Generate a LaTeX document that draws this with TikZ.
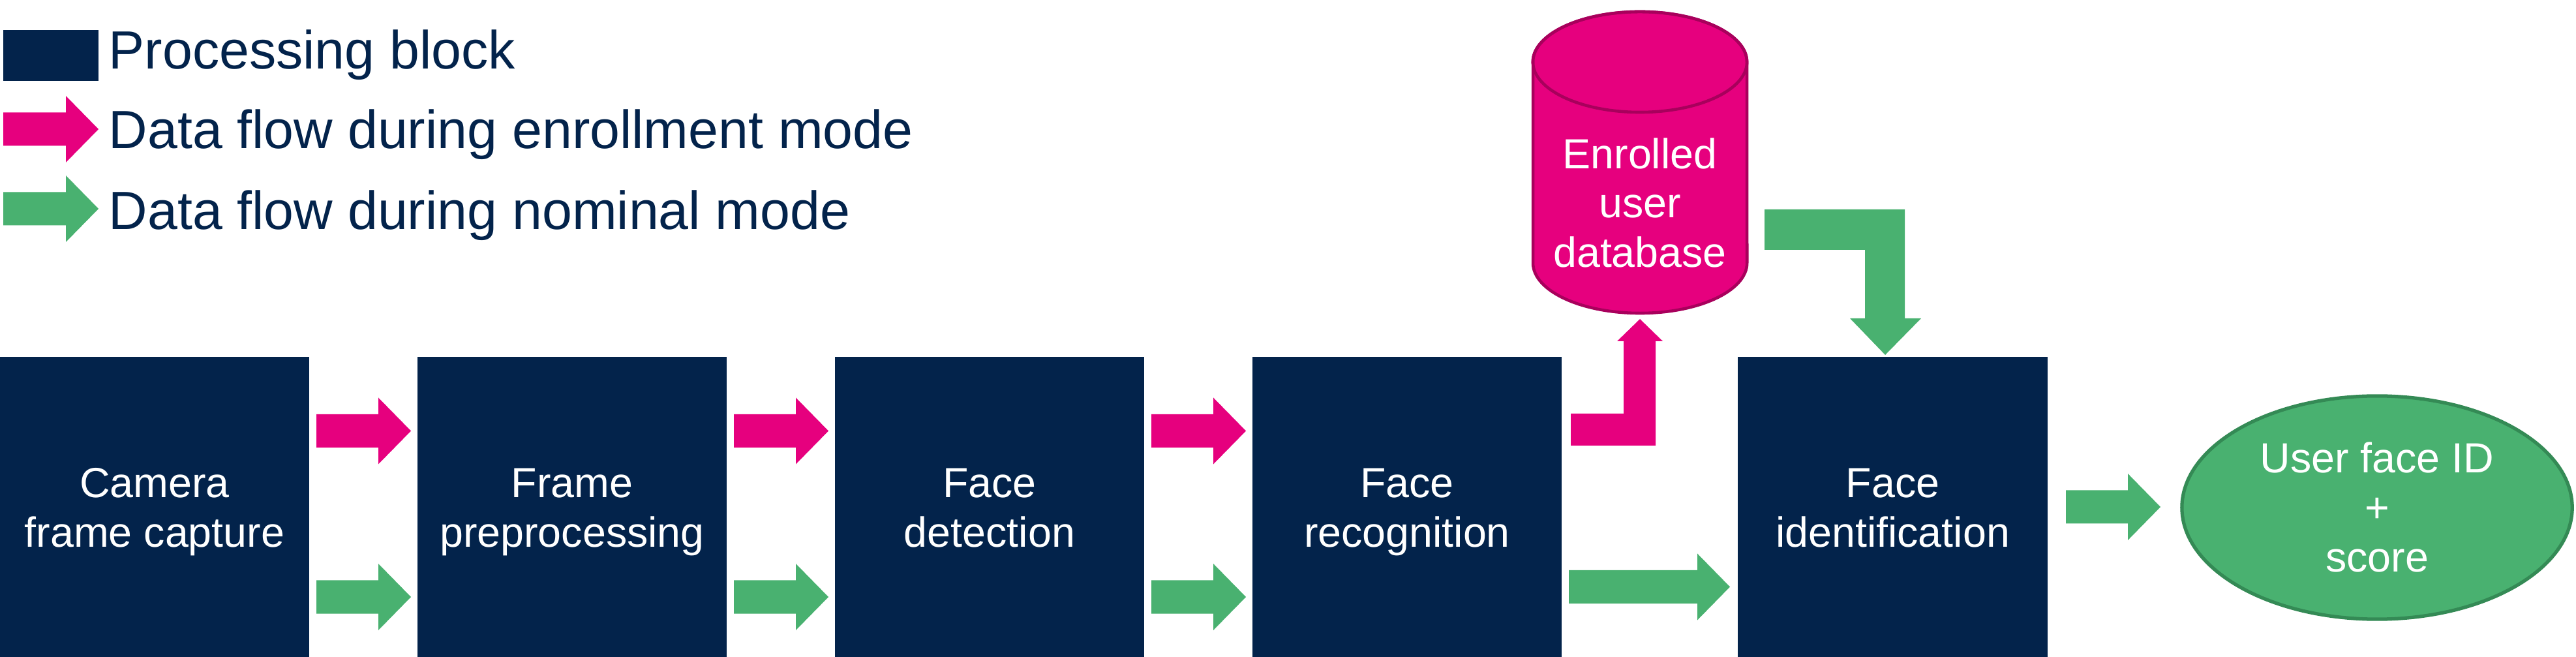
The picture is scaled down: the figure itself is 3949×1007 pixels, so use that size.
\documentclass[tikz,border=0pt]{standalone}
\usepackage{fontspec}
\setmainfont{Liberation Sans}
\usetikzlibrary{shapes.geometric}
\definecolor{navy}{HTML}{03234B}
\definecolor{enr}{HTML}{E6007E}
\definecolor{enrdark}{HTML}{A8005C}
\definecolor{nom}{HTML}{49B170}
\definecolor{nomdark}{HTML}{348A55}
\newcommand\blockfont{\fontsize{18.36pt}{21.6pt}\selectfont}
\newcommand\legendfont{\fontsize{23.45pt}{28pt}\selectfont}
\newcommand\blocktext[2]{\rule{0pt}{17.6pt}#1\\#2\rule[-4pt]{0pt}{4pt}}
\tikzset{
  block/.style={fill=navy, text=white, minimum width=4.74cm, minimum height=4.6cm,
    inner sep=0pt, outer sep=0pt, align=center, font=\blockfont},
  legtext/.style={anchor=base west, inner sep=0pt, text=navy, font=\legendfont},
  pics/rarrow/.style={code={
    \fill[pic actions] (0,-25.5) -- ({#1-50},-25.5) -- ({#1-50},-51) -- (#1,0)
      -- ({#1-50},51) -- ({#1-50},25.5) -- (0,25.5) -- cycle;}}
}
\begin{document}
\begin{tikzpicture}[x=0.01cm,y=-0.01cm]
\useasboundingbox (0,0) rectangle (3949,1007);

% legend
\node[fill=navy, minimum width=1.46cm, minimum height=0.78cm, inner sep=0pt] (lgblock) at (78,85) {};
\node[legtext] (lgblocktxt) at (166,106) {Processing block};
\pic[fill=enr] at (5,198) {rarrow=146};
\node[legtext] (lgenr) at (166,228) {Data flow during enrollment mode};
\pic[fill=nom] at (5,320) {rarrow=146};
\node[legtext] (lgnom) at (166,352) {Data flow during nominal mode};

% processing blocks
\node[block] (cam) at (237,777) {\blocktext{Camera}{frame capture}};
\node[block] (pre) at (877,777) {\blocktext{Frame}{preprocessing}};
\node[block] (det) at (1517,777) {\blocktext{Face}{detection}};
\node[block] (rec) at (2157,777) {\blocktext{Face}{recognition}};
\node[block] (ide) at (2901.5,777) {\blocktext{Face}{identification}};

% arrows between blocks
\pic[fill=enr] at (485,660.5) {rarrow=145};
\pic[fill=nom] at (485,915) {rarrow=145};
\pic[fill=enr] at (1125,660.5) {rarrow=145};
\pic[fill=nom] at (1125,915) {rarrow=145};
\pic[fill=enr] at (1765,660.5) {rarrow=145};
\pic[fill=nom] at (1765,915) {rarrow=145};
\pic[fill=nom] at (2405,899.5) {rarrow=247};
\pic[fill=nom] at (3167,777) {rarrow=145};

% database cylinder
\filldraw[fill=enr, draw=enrdark, line width=1.3pt]
  (2350,95) -- (2350,403) arc[start angle=180, end angle=360, x radius=1.64cm, y radius=0.77cm]
  -- (2678,95) arc[start angle=0, end angle=180, x radius=1.64cm, y radius=0.77cm] -- cycle;
\draw[enrdark, line width=1.3pt] (2514,95) ellipse [x radius=1.64cm, y radius=0.77cm];
\node[font=\blockfont, text=white, align=center, inner sep=0pt] (db) at (2514,334)
  {\rule{0pt}{15pt}Enrolled\\user\\database\rule[-15pt]{0pt}{15pt}};

% bent arrows
\fill[enr] (2408,634) -- (2489,634) -- (2489,523) -- (2479,523) -- (2514,489) -- (2549,523)
  -- (2538,523) -- (2538,683) -- (2408,683) -- cycle;
\fill[nom] (2705,321) -- (2920,321) -- (2920,488) -- (2945,488) -- (2890,544) -- (2836,488)
  -- (2859,488) -- (2859,383) -- (2705,383) -- cycle;

% output ellipse
\node[ellipse, fill=nom, draw=nomdark, line width=1.5pt, minimum width=5.98cm, minimum height=3.42cm,
  inner sep=0pt, text=white, align=center, font=\blockfont] (out) at (3644,778)
  {\rule{0pt}{17pt}User face ID\\+\\score\rule[-4.2pt]{0pt}{4.2pt}};
\end{tikzpicture}
\end{document}
